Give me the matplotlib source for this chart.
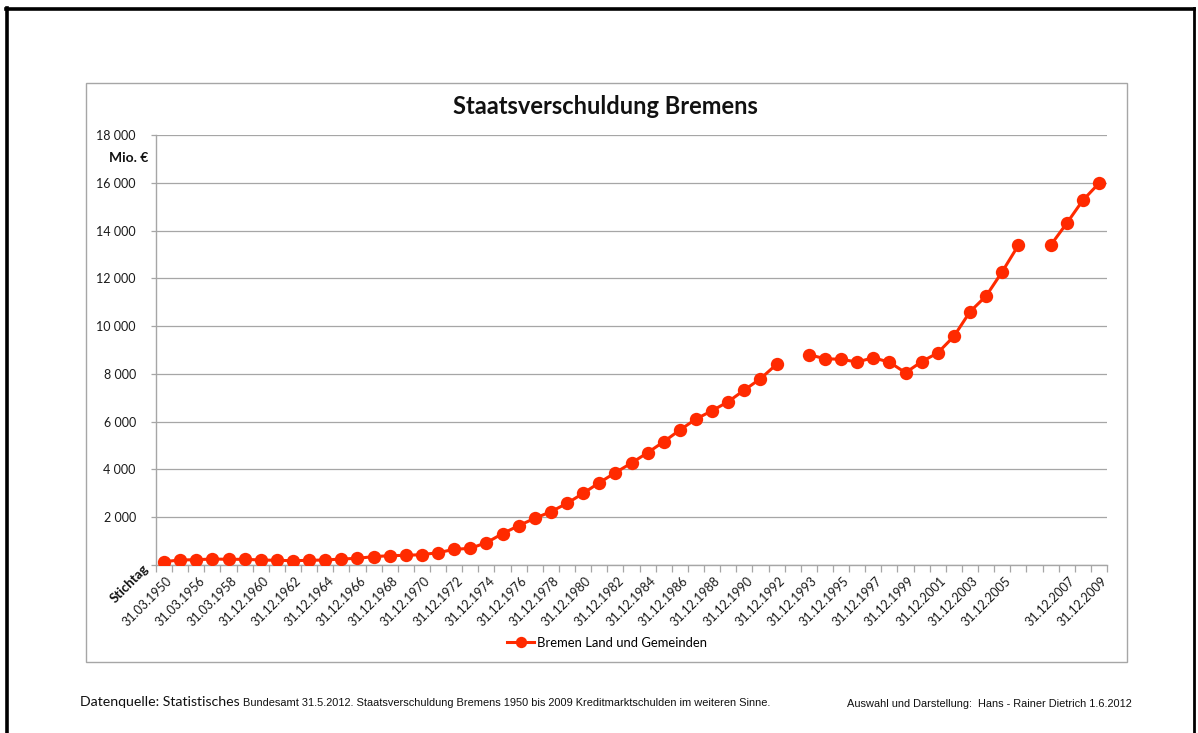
import matplotlib
matplotlib.use("Agg")
import matplotlib.pyplot as plt
import matplotlib.transforms as mtransforms
from matplotlib.lines import Line2D
from matplotlib.ticker import FuncFormatter
import numpy as np

# ---------------- data ----------------
stichtage = [
    "31.03.1950", "31.03.1955", "31.03.1956", "31.03.1957", "31.03.1958", "31.12.1959",
    "31.12.1960", "31.12.1961", "31.12.1962", "31.12.1963", "31.12.1964", "31.12.1965",
    "31.12.1966", "31.12.1967", "31.12.1968", "31.12.1969", "31.12.1970", "31.12.1971",
    "31.12.1972", "31.12.1973", "31.12.1974", "31.12.1975", "31.12.1976", "31.12.1977",
    "31.12.1978", "31.12.1979", "31.12.1980", "31.12.1981", "31.12.1982", "31.12.1983",
    "31.12.1984", "31.12.1985", "31.12.1986", "31.12.1987", "31.12.1988", "31.12.1989",
    "31.12.1990", "31.12.1991", "31.12.1992", "",
    "31.12.1993", "31.12.1994", "31.12.1995", "31.12.1996", "31.12.1997", "31.12.1998",
    "31.12.1999", "31.12.2000", "31.12.2001", "31.12.2002", "31.12.2003", "31.12.2004",
    "31.12.2005", "31.12.2006", "",
    "31.12.2006", "31.12.2007", "31.12.2008", "31.12.2009",
]
schulden = [
    140, 210, 222, 250, 238, 238,
    210, 196, 180, 196, 210, 250,
    280, 350, 390, 405, 433, 516,
    656, 698, 935, 1312, 1647, 1955,
    2231, 2582, 3000, 3445, 3864, 4270,
    4701, 5161, 5651, 6111, 6459, 6836,
    7325, 7798, 8400, None,
    8805, 8636, 8610, 8497, 8677, 8490,
    8050, 8511, 8880, 9570, 10603, 11260,
    12278, 13382, None,
    13382, 14303, 15266, 15977,
]
series_name = "Bremen Land und Gemeinden"
title = "Staatsverschuldung Bremens"
y_ticks = [0, 2000, 4000, 6000, 8000, 10000, 12000, 14000, 16000, 18000]

W, H = 1198, 733
fig = plt.figure(figsize=(W / 100, H / 100), dpi=100)
fig.patch.set_facecolor("white")

def fx(px):
    return px / W

def fy(py):
    return 1 - py / H

# page border (black) and chart area frame (grey)
fig.add_artist(Line2D([fx(6), fx(1194)], [fy(8.5), fy(8.5)], color="black", lw=2.6))
fig.add_artist(Line2D([fx(6.5), fx(6.5)], [fy(8), fy(740)], color="black", lw=2.6))
fig.add_artist(Line2D([fx(1194), fx(1194)], [fy(8), fy(740)], color="black", lw=2.0))
fig.add_artist(plt.Rectangle((fx(85.5), fy(661.5)), fx(1127) - fx(85.5), fy(83.5) - fy(661.5),
                             fill=False, edgecolor="#a6a6a6", lw=1.0))

ax = fig.add_axes([fx(156), fy(565), fx(1107) - fx(156), fy(135) - fy(565)])
ax.set_facecolor("white")

x = np.arange(len(schulden))
y = np.array([np.nan if v is None else v for v in schulden], dtype=float)
red = "#FF2A00"
ax.plot(x, y, color=red, lw=2.2, marker="o", markersize=9.6, markeredgewidth=0,
        label=series_name, zorder=3)

ax.set_xlim(-0.5, len(schulden) - 0.5)
ax.set_ylim(0, 18000)

grid_c = "#a6a6a6"
ax.set_yticks(y_ticks)
ax.yaxis.set_major_formatter(FuncFormatter(lambda v, p: "" if v == 0 else f"{int(v):,}".replace(",", " ")))
ax.grid(axis="y", color=grid_c, lw=0.9)
ax.set_axisbelow(True)
for s in ["top", "right"]:
    ax.spines[s].set_visible(False)
for s in ["left", "bottom"]:
    ax.spines[s].set_color(grid_c)
    ax.spines[s].set_linewidth(1.0)

ax.tick_params(axis="y", length=3.5, width=0.9, color=grid_c, pad=11, labelsize=9,
               labelfontfamily="Lato", labelcolor="#1a1a1a")

major = list(range(0, len(stichtage), 2))
ax.set_xticks(major)
ax.set_xticklabels([stichtage[i] for i in major], rotation=45, ha="right", va="top",
                   rotation_mode="anchor", fontsize=9.0, family="Lato", color="#1a1a1a")
ax.tick_params(axis="x", which="major", length=0, pad=7)
ax.set_xticks(np.arange(-0.5, len(stichtage), 1), minor=True)
ax.tick_params(axis="x", which="minor", length=5, width=0.9, color=grid_c)
offset = mtransforms.ScaledTranslation(2 / 100, 0, fig.dpi_scale_trans)
for lab in ax.get_xticklabels():
    lab.set_transform(lab.get_transform() + offset)

# title and axis captions
fig.text(fx(605), fy(106), title, ha="center", va="center", fontsize=17,
         fontweight="bold", family="Lato", color="#111111")
fig.text(fx(148), fy(158), "Mio. €", ha="right", va="center", fontsize=10,
         fontweight="bold", family="Lato", color="#111111")
fig.text(fx(142), fy(562), "Stichtag", ha="right", va="top", rotation=45,
         rotation_mode="anchor", fontsize=9.5, fontweight="bold", family="Lato",
         color="#111111")

leg = ax.legend(loc="center", bbox_to_anchor=(fx(607), fy(643)),
                bbox_transform=fig.transFigure, frameon=False, prop={"family": "Lato", "size": 9.4},
                handlelength=2.1, handletextpad=0.2, markerscale=0.85)

# footer
t1 = fig.text(fx(80), fy(706), "Datenquelle: Statistisches", ha="left", va="baseline",
              fontsize=10.2, family="Lato", color="#111111")
fig.canvas.draw()
bb = t1.get_window_extent()
fig.text(bb.x1 / W + fx(3), fy(706), "Bundesamt 31.5.2012. Staatsverschuldung Bremens 1950 bis 2009 "
         "Kreditmarktschulden im weiteren Sinne.", ha="left", va="baseline", fontsize=7.9,
         family="Liberation Sans", color="#111111")
fig.text(fx(847), fy(707), "Auswahl und Darstellung:  Hans - Rainer Dietrich 1.6.2012", ha="left",
         va="baseline", fontsize=7.9, family="Liberation Sans", color="#111111")

fig.savefig("out.png", dpi=100, facecolor="white")
